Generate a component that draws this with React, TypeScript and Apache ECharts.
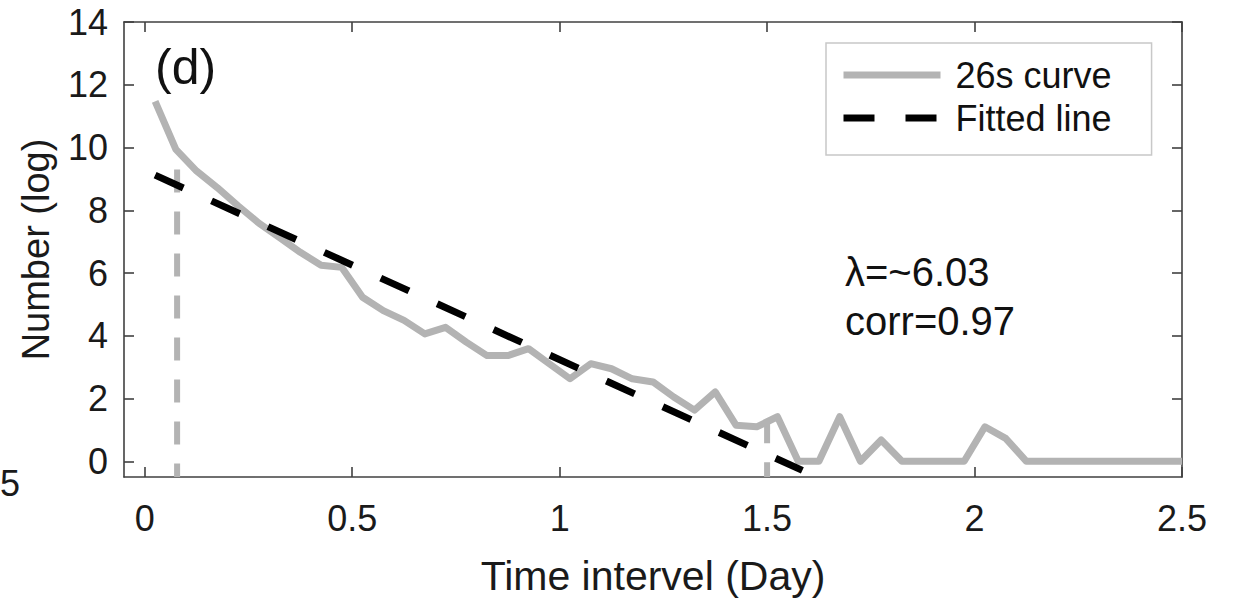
import React, { useEffect, useRef } from "react";
import * as echarts from "echarts";

// ---- data ----
const timeDays = [
  0.025, 0.075, 0.125, 0.175, 0.225, 0.275, 0.325, 0.375, 0.425, 0.475,
  0.525, 0.575, 0.625, 0.675, 0.725, 0.775, 0.825, 0.875, 0.925, 0.975,
  1.025, 1.075, 1.125, 1.175, 1.225, 1.275, 1.325, 1.375, 1.425, 1.475,
  1.525, 1.575, 1.625, 1.675, 1.725, 1.775, 1.825, 1.875, 1.925, 1.975,
  2.025, 2.075, 2.125, 2.175, 2.225, 2.275, 2.325, 2.375, 2.425, 2.475, 2.5,
];
const curveValues = [
  11.47, 9.94, 9.25, 8.72, 8.14, 7.59, 7.13, 6.66, 6.25, 6.18,
  5.23, 4.8, 4.49, 4.06, 4.27, 3.8, 3.37, 3.37, 3.59, 3.11,
  2.63, 3.11, 2.95, 2.63, 2.53, 2.05, 1.63, 2.21, 1.15, 1.1,
  1.42, 0, 0, 1.42, 0, 0.68, 0, 0, 0, 0,
  1.1, 0.73, 0, 0, 0, 0, 0, 0, 0, 0, 0,
];
const fitTimes = [0.025, 1.585];
const fitValues = [9.12, -0.29];
const markerTimes = [0.078, 1.5];
const markerTops = [9.3, 1.31];
const xTicks = [0, 0.5, 1, 1.5, 2, 2.5];
const yTicks = [0, 2, 4, 6, 8, 10, 12, 14];
const xRange = [-0.05, 2.5];
const yRange = [-0.5, 14];
const seriesNames = ["26s curve", "Fitted line"];
const lambdaText = "λ=~6.03";
const corrText = "corr=0.97";
const panelText = "(d)";
const edgeFragment = "5";

const FONT = "'Liberation Sans', Arial, sans-serif";
const AXIS_COLOR = "#404040";
const GRAY = "#b3b3b3";

export default function App() {
  const ref = useRef<HTMLDivElement>(null);

  useEffect(() => {
    if (!ref.current) return;
    const chart = echarts.init(ref.current, undefined, { renderer: "svg" });

    const axisLineStyle = { color: AXIS_COLOR, width: 1.6 };
    const tickCommon = { show: true, inside: true, length: 10, lineStyle: axisLineStyle };

    const xBase = {
      type: "value" as const,
      min: xRange[0],
      max: xRange[1],
      splitLine: { show: false },
      axisLine: { show: true, onZero: false, lineStyle: axisLineStyle },
    };
    const yBase = {
      type: "value" as const,
      min: yRange[0],
      max: yRange[1],
      splitLine: { show: false },
      axisLine: { show: true, onZero: false, lineStyle: axisLineStyle },
    };

    const markerSeries = markerTimes.map((t, i) => ({
      name: "marker" + i,
      type: "line" as const,
      data: [
        [t, markerTops[i]],
        [t, yRange[0]],
      ],
      symbol: "none",
      silent: true,
      z: 1,
      lineStyle: { color: GRAY, width: 6, type: [23, 19], cap: "butt" },
      itemStyle: { color: GRAY },
    }));

    chart.setOption({
      animation: false,
      grid: {
        left: 124,
        right: 53,
        top: 22,
        bottom: 122,
        containLabel: false,
        outerBoundsMode: "none",
      },
      xAxis: [
        {
          ...xBase,
          position: "bottom",
          name: "Time intervel (Day)",
          nameLocation: "middle",
          nameGap: 78,
          nameTextStyle: { fontFamily: FONT, fontSize: 41, color: "#1a1a1a" },
          axisTick: { ...tickCommon, customValues: xTicks },
          axisLabel: {
            customValues: xTicks,
            margin: 23,
            fontFamily: FONT,
            fontSize: 36,
            color: "#1a1a1a",
          },
        },
        {
          ...xBase,
          position: "top",
          axisTick: { ...tickCommon, customValues: xTicks },
          axisLabel: { show: false },
        },
      ],
      yAxis: [
        {
          ...yBase,
          position: "left",
          name: "Number (log)",
          nameLocation: "middle",
          nameGap: 69,
          nameRotate: 90,
          nameTextStyle: { fontFamily: FONT, fontSize: 38, color: "#1a1a1a" },
          axisTick: { ...tickCommon, customValues: yTicks },
          axisLabel: {
            customValues: yTicks,
            margin: 16,
            fontFamily: FONT,
            fontSize: 36,
            color: "#1a1a1a",
          },
        },
        {
          ...yBase,
          position: "right",
          axisTick: { ...tickCommon, customValues: yTicks },
          axisLabel: { show: false },
        },
      ],
      legend: {
        data: seriesNames,
        orient: "vertical",
        left: 826,
        top: 43,
        padding: [14, 40, 19, 14],
        itemWidth: 97,
        itemHeight: 20,
        itemGap: 7,
        backgroundColor: "#fff",
        borderColor: "#c8c8c8",
        borderWidth: 1.5,
        borderRadius: 0,
        selectedMode: false,
        itemStyle: { color: "transparent", borderWidth: 0, opacity: 0 },
        lineStyle: { width: 7 },
        textStyle: {
          fontFamily: FONT,
          fontSize: 36,
          color: "#111",
          padding: [0, 0, 0, 10],
        },
      },
      graphic: [
        {
          type: "text",
          left: 155,
          top: 42,
          style: { text: panelText, font: `50px ${FONT}`, fill: "#111" },
        },
        {
          type: "text",
          x: 845,
          y: 272,
          style: {
            text: lambdaText,
            font: `40px ${FONT}`,
            fill: "#111",
            verticalAlign: "middle",
          },
        },
        {
          type: "text",
          x: 845,
          y: 321,
          style: {
            text: corrText,
            font: `40px ${FONT}`,
            fill: "#111",
            verticalAlign: "middle",
          },
        },
        {
          type: "text",
          x: 0,
          y: 483,
          style: {
            text: edgeFragment,
            font: `36px ${FONT}`,
            fill: "#1a1a1a",
            verticalAlign: "middle",
          },
        },
      ],
      series: [
        ...markerSeries,
        {
          name: seriesNames[0],
          type: "line",
          data: timeDays.map((t, i) => [t, curveValues[i]]),
          symbol: "none",
          showSymbol: false,
          z: 2,
          lineStyle: { color: GRAY, width: 7, join: "round" },
          itemStyle: { color: GRAY },
        },
        {
          name: seriesNames[1],
          type: "line",
          data: fitTimes.map((t, i) => [t, fitValues[i]]),
          symbol: "none",
          showSymbol: false,
          z: 3,
          lineStyle: { color: "#000", width: 7, type: [31, 31], cap: "butt" },
          itemStyle: { color: "#000" },
        },
      ],
    });

    return () => chart.dispose();
  }, []);

  return (
    <div
      ref={ref}
      style={{ position: "fixed", left: 0, top: 0, width: 1235, height: 599, background: "#fff" }}
    />
  );
}
